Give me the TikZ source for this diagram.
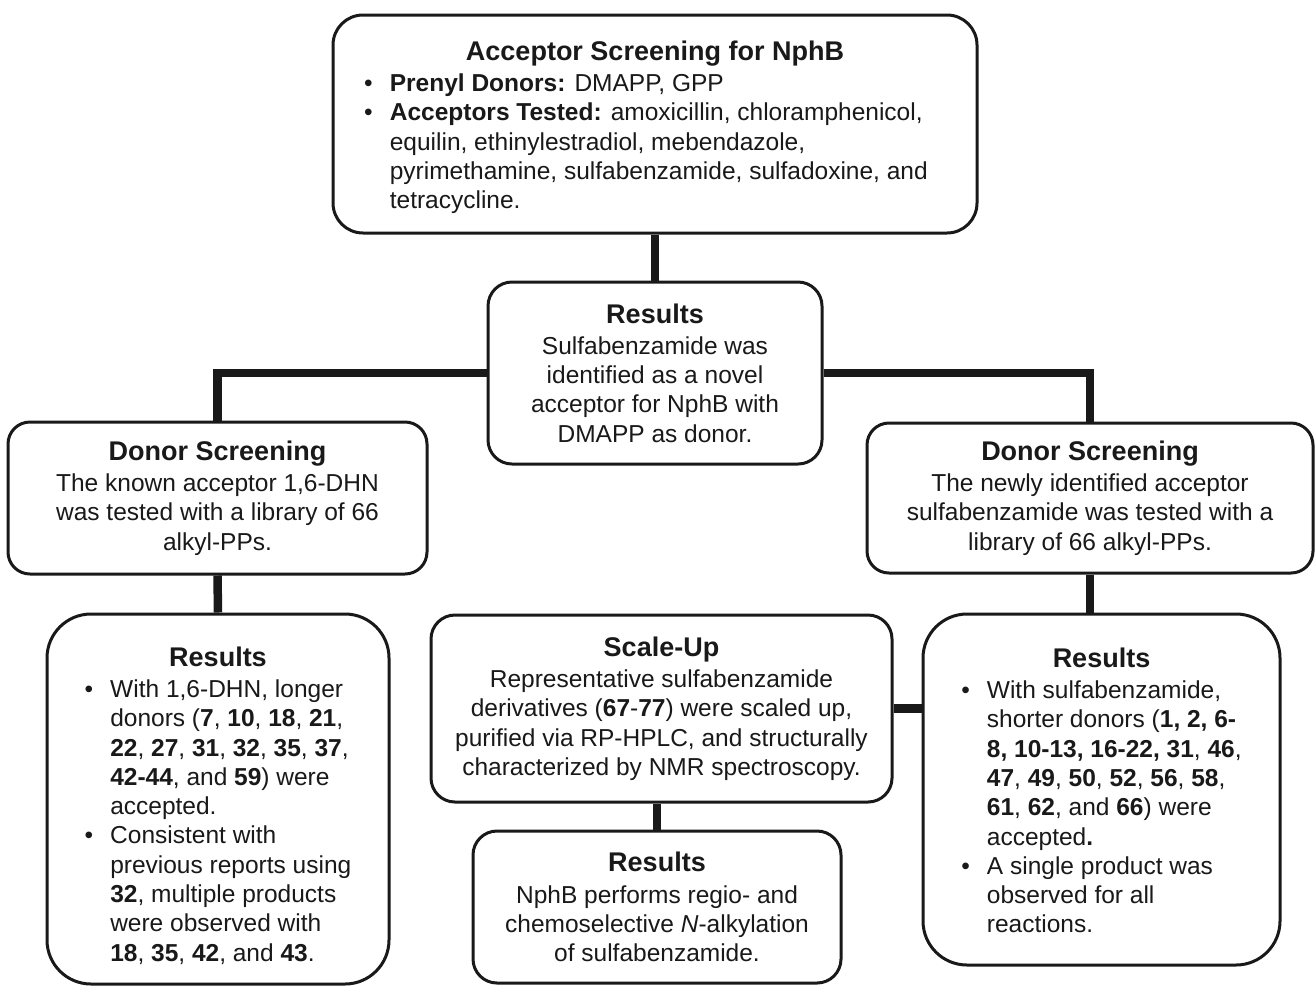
\documentclass[tikz,border=0pt]{standalone}
\usepackage{fontspec}
\setmainfont{Liberation Sans}
\usetikzlibrary{calc,positioning}

\begin{document}
\begin{tikzpicture}[x=0.5pt,y=-0.5pt]
		% Styles
		\tikzset{
			box/.style={draw=black!90, line width=1.5pt, fill=white, align=center, inner sep=0pt,
				text=black!90, font=\fontsize{12.25}{14.65}\selectfont},
			link/.style={draw=black!90, line width=4.25pt}
		}
		\newcommand{\bul}{\textbullet}
		\newcommand{\boxtitle}[1]{{\fontsize{13.5}{15.5}\selectfont\textbf{#1}}}

		\useasboundingbox (0,0) rectangle (1315,986);

		% Top box
		\node[box, rounded corners=15pt, minimum width=322pt, minimum height=109pt] (acc) at (655,124) {%
			\rule{0pt}{15pt}\boxtitle{Acceptor Screening for NphB}\\[1pt]
			\hspace*{-9pt}\begin{tabular}[t]{@{}l@{\hspace{8.5pt}}l@{}}
				\bul & \textbf{Prenyl Donors:} DMAPP, GPP\\
				\bul & \textbf{Acceptors Tested:} amoxicillin, chloramphenicol,\\
				& equilin, ethinylestradiol, mebendazole,\\
				& pyrimethamine, sulfabenzamide, sulfadoxine, and\\
				& tetracycline.
			\end{tabular}};

		% Middle results
		\node[box, rounded corners=12pt, minimum width=167pt, minimum height=91pt] (res1) at (655,373) {%
			\boxtitle{Results}\\[1pt]Sulfabenzamide was\\identified as a novel\\acceptor for NphB with\\DMAPP as donor.};

		% Donor screening boxes
		\node[box, rounded corners=11pt, minimum width=209.5pt, minimum height=76pt] (don1) at (217.5,498) {%
			\boxtitle{Donor Screening}\\[1pt]The known acceptor 1,6-DHN\\was tested with a library of 66\\alkyl-PPs.};
		\node[box, rounded corners=11pt, minimum width=223pt, minimum height=75pt] (don2) at (1090,498) {%
			\boxtitle{Donor Screening}\\[1pt]The newly identified acceptor\\sulfabenzamide was tested with a\\library of 66 alkyl-PPs.};

		% Results of left donor screening
		\node[box, rounded corners=22pt, minimum width=171pt, minimum height=185pt] (resL) at (218,799) {%
			\rule{0pt}{19pt}\boxtitle{Results}\\[1pt]
			\begin{tabular}[t]{@{}l@{\hspace{8.5pt}}l@{}}
				\bul & With 1,6-DHN, longer\\
				& donors (\textbf{7}, \textbf{10}, \textbf{18}, \textbf{21},\\
				& \textbf{22}, \textbf{27}, \textbf{31}, \textbf{32}, \textbf{35}, \textbf{37},\\
				& \textbf{42-44}, and \textbf{59}) were\\
				& accepted.\\
				\bul & Consistent with\\
				& previous reports using\\
				& \textbf{32}, multiple products\\
				& were observed with\\
				& \textbf{18}, \textbf{35}, \textbf{42}, and \textbf{43}.
			\end{tabular}};

		% Scale-up and its results
		\node[box, rounded corners=12pt, minimum width=230.5pt, minimum height=93.5pt] (scale) at (661.5,708.5) {%
			\boxtitle{Scale-Up}\\[1pt]Representative sulfabenzamide\\derivatives (\textbf{67}-\textbf{77}) were scaled up,\\purified via RP-HPLC, and structurally\\characterized by NMR spectroscopy.};
		\node[box, rounded corners=12pt, minimum width=184pt, minimum height=76pt] (resB) at (657,907) {%
			\boxtitle{Results}\\[1pt]NphB performs regio- and\\chemoselective \textit{N}-alkylation\\of sulfabenzamide.};

		% Results of right donor screening
		\node[box, rounded corners=22pt, minimum width=178.5pt, minimum height=175.5pt] (resR) at (1101.5,789.5) {%
			\rule{0pt}{15pt}\boxtitle{Results}\\[1pt]
			\begin{tabular}[t]{@{}l@{\hspace{8.5pt}}l@{}}
				\bul & With sulfabenzamide,\\
				& shorter donors (\textbf{1, 2, 6-}\\
				& \textbf{8, 10-13, 16-22, 31}, \textbf{46},\\
				& \textbf{47}, \textbf{49}, \textbf{50}, \textbf{52}, \textbf{56}, \textbf{58},\\
				& \textbf{61}, \textbf{62}, and \textbf{66}) were\\
				& accepted\textbf{.}\\
				\bul & A single product was\\
				& observed for all\\
				& reactions.
			\end{tabular}};

		% Connectors
		\draw[link] (acc.south) -- (res1.north);
		\draw[link] (res1.west) -| (don1.north);
		\draw[link] (res1.east) -| (don2.north);
		\draw[link] (don1.south) -- (resL.north);
		\draw[link] (don2.south) -- (don2.south |- resR.north);
		\draw[link] (scale.south -| resB.north) -- (resB.north);
		\draw[link] (scale.east) -- (scale.east -| resR.west);

	\end{tikzpicture}
\end{document}
